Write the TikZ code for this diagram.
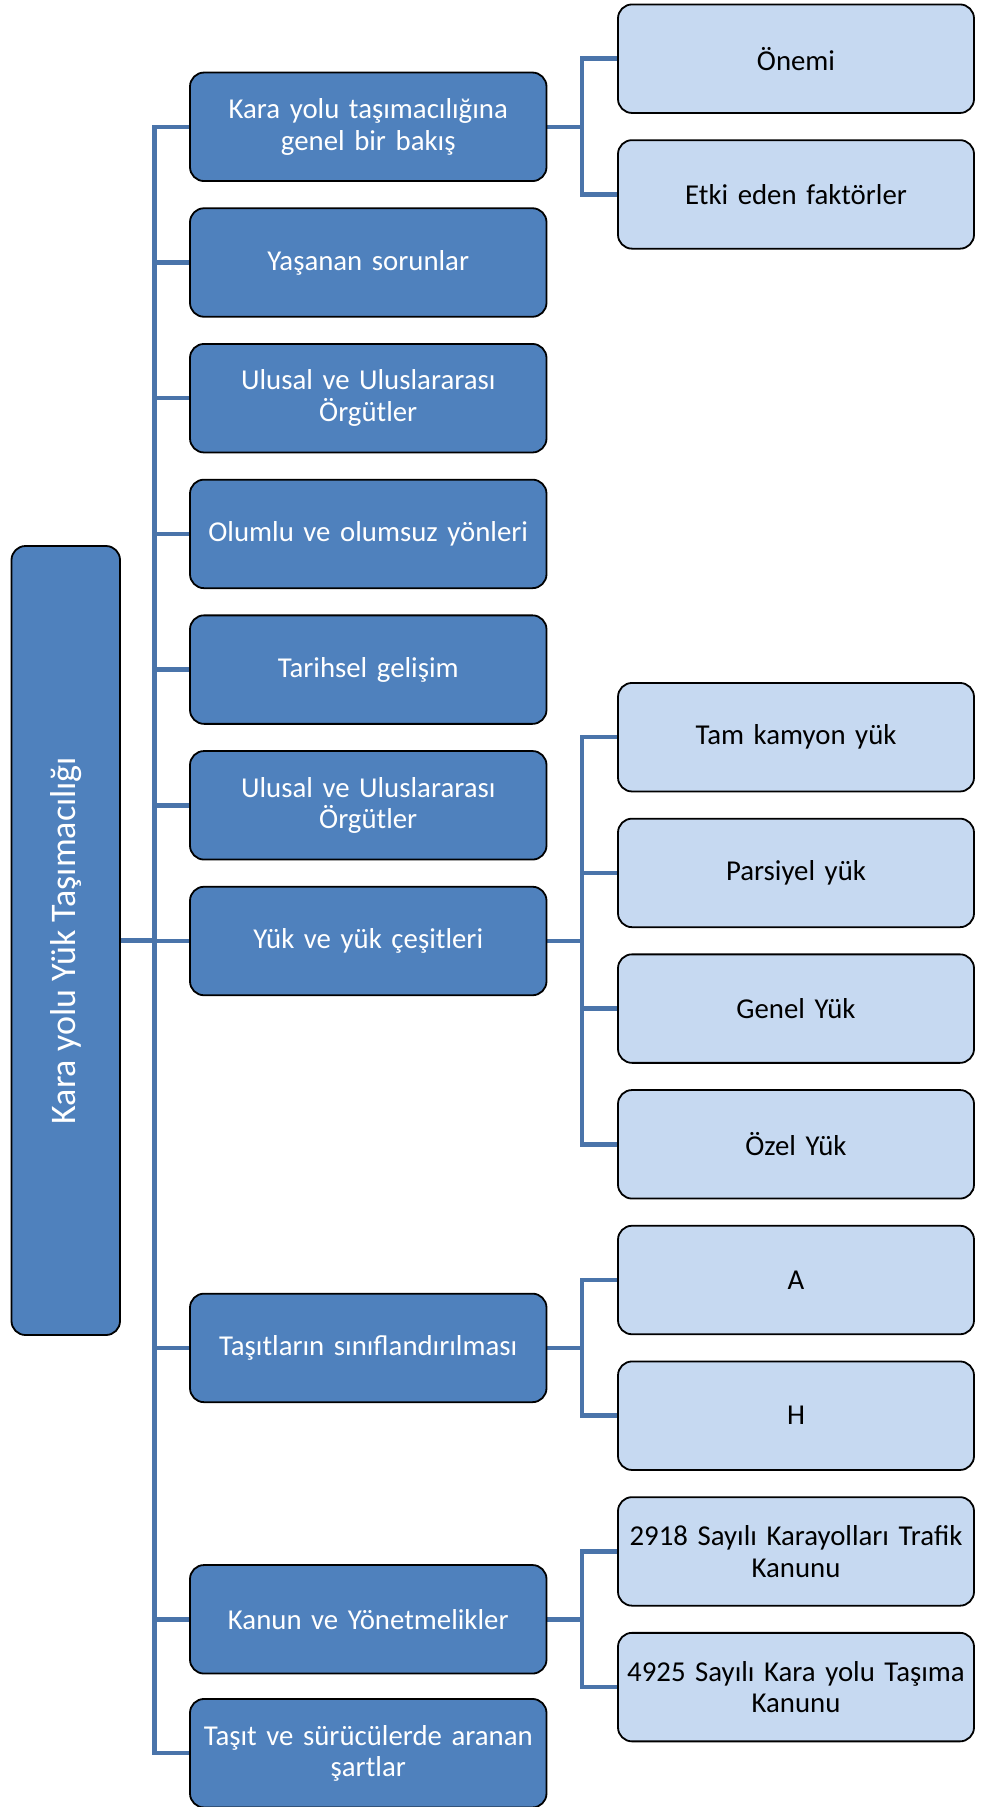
\documentclass[tikz,border=0pt]{standalone}
\usepackage{fontspec}
\setmainfont{Carlito}
\usetikzlibrary{backgrounds}
\definecolor{darkbox}{HTML}{4F81BD}
\definecolor{lightbox}{HTML}{C6D9F1}
\definecolor{connc}{HTML}{4A74AA}
\tikzset{
  basebox/.style={rectangle, rounded corners=14pt, draw=black, line width=1.8pt,
    minimum height=108.5pt, text width=350pt, align=center, inner sep=0pt,
    font=\fontsize{28.8}{31.5}\selectfont},
  darkb/.style={basebox, fill=darkbox, text=white, minimum width=356.5pt},
  lightb/.style={basebox, fill=lightbox, text=black, minimum width=356pt},
  conn/.style={draw=connc, line width=4.5pt, line join=miter},
}
\begin{document}
\begin{tikzpicture}[x=1pt,y=-1pt]
\useasboundingbox (0,0) rectangle (980,1807);
% main box
\node[rectangle, rounded corners=14pt, draw=black, line width=1.8pt, fill=darkbox,
  minimum width=108.5pt, minimum height=789pt, inner sep=0pt]
  (main) at (65.75,940.5) {};
\node[rotate=90, text=white, font=\fontsize{36}{40}\selectfont] (maintext) at (main.center) {Kara yolu Yük Taşımacılığı};
% level 1
\node[darkb] (b1) at (368.25,126.8) {Kara yolu taşımacılığına\\genel bir bakış};
\node[darkb] (b2) at (368.25,262.5) {Yaşanan sorunlar};
\node[darkb] (b3) at (368.25,398.2) {Ulusal ve Uluslararası\\Örgütler};
\node[darkb] (b4) at (368.25,533.9) {Olumlu ve olumsuz yönleri};
\node[darkb] (b5) at (368.25,669.6) {Tarihsel gelişim};
\node[darkb] (b6) at (368.25,805.3) {Ulusal ve Uluslararası\\Örgütler};
\node[darkb] (b7) at (368.25,941.0) {Yük ve yük çeşitleri};
\node[darkb] (b8) at (368.25,1347.9) {Taşıtların sınıflandırılması};
\node[darkb] (b9) at (368.25,1619.3) {Kanun ve Yönetmelikler};
\node[darkb] (b10) at (368.25,1753.2) {Taşıt ve sürücülerde aranan\\şartlar};
% level 2
\node[lightb] (c1) at (796,58.7) {Önemi};
\node[lightb] (c2) at (796,194.4) {Etki eden faktörler};
\node[lightb] (c3) at (796,737.2) {Tam kamyon yük};
\node[lightb] (c4) at (796,872.9) {Parsiyel yük};
\node[lightb] (c5) at (796,1008.6) {Genel Yük};
\node[lightb] (c6) at (796,1144.3) {Özel Yük};
\node[lightb] (c7) at (796,1280.0) {A};
\node[lightb] (c8) at (796,1415.7) {H};
\node[lightb] (c9) at (796,1551.4) {2918 Sayılı Karayolları Trafik\\Kanunu};
\node[lightb] (c10) at (796,1687.1) {4925 Sayılı Kara yolu Taşıma\\Kanunu};
% connectors
\coordinate (t) at (154.5,940.5);
\coordinate (g1) at (582,126.8);
\coordinate (g7) at (582,941.0);
\coordinate (g8) at (582,1347.9);
\coordinate (g9) at (582,1619.3);
\begin{scope}[on background layer]
\draw[conn] (main.east) -- (t);
\foreach \b in {b1,b2,b3,b4,b5,b6,b7,b8,b9,b10} {\draw[conn] (t) |- (\b.west);}
\draw[conn] (b1.east) -- (g1);
\draw[conn] (g1) |- (c1.west);
\draw[conn] (g1) |- (c2.west);
\draw[conn] (b7.east) -- (g7);
\foreach \c in {c3,c4,c5,c6} {\draw[conn] (g7) |- (\c.west);}
\draw[conn] (b8.east) -- (g8);
\foreach \c in {c7,c8} {\draw[conn] (g8) |- (\c.west);}
\draw[conn] (b9.east) -- (g9);
\foreach \c in {c9,c10} {\draw[conn] (g9) |- (\c.west);}
\end{scope}
\end{tikzpicture}
\end{document}
